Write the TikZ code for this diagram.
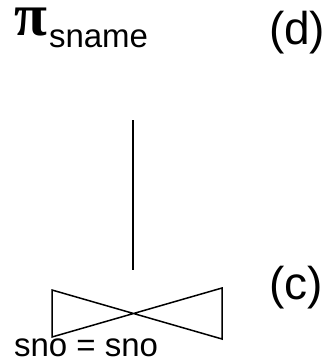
\documentclass[tikz,border=0pt]{standalone}
\usepackage{fontspec}
\setmainfont{Liberation Sans}
\newfontfamily\pifont{Liberation Serif}
\usetikzlibrary{positioning}

\begin{document}
\begin{tikzpicture}[
  x=1pt, y=-1pt,
  every node/.style={inner sep=0pt, outer sep=0pt, anchor=base west},
  oplabel/.style={font=\fontsize{33}{33}\selectfont},
  steptag/.style={font=\fontsize{46}{46}\selectfont},
  edge/.style={line width=1.5pt, line join=miter}
]
  \useasboundingbox (0,0) rectangle (333,362);
  % --- projection and step tags ---
  \node (proj) [text height=23pt, text depth=0pt] at (15,35.5)
    {\pifont\bfseries\fontsize{60}{60}\selectfont π};
  \node (projsub) [oplabel] at (49,47) {sname};
  \node (d) [steptag] at (269,44) {(d)};
  \node (c) [steptag] at (269,299) {(c)};
  \node (cond) [oplabel] at (14,356) {sno = sno};

  % --- join symbol: bowtie ---
  \coordinate (jtl) at (52,290);
  \coordinate (jbl) at (52,337);
  \coordinate (jtr) at (222,288);
  \coordinate (jbr) at (222,339);
  \draw[edge] (jtl) -- (jbr) -- (jtr) -- (jbl) -- cycle;

  % --- edge from projection down to join ---
  \coordinate (etop) at (133,120);
  \coordinate (ebot) at (133,270);
  \draw[edge] (etop) -- (ebot);
\end{tikzpicture}
\end{document}
